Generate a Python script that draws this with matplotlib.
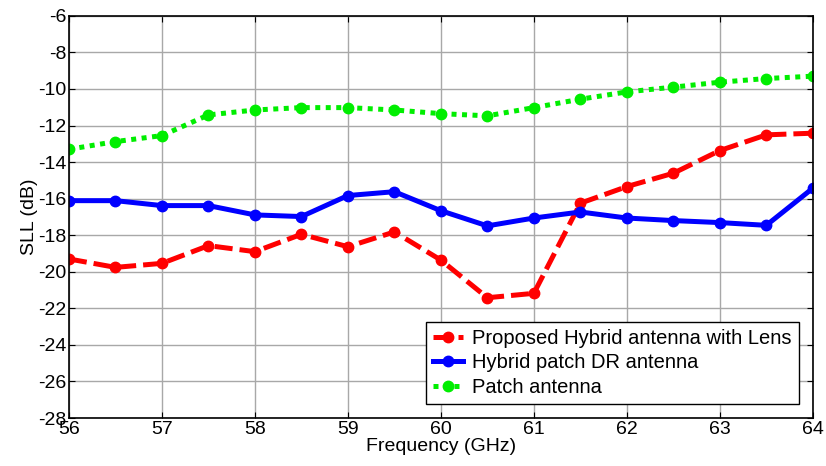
import matplotlib
matplotlib.use("Agg")
import matplotlib.pyplot as plt

plt.rcParams['font.family'] = ['Liberation Sans', 'DejaVu Sans']
plt.rcParams['axes.unicode_minus'] = False

freq = [56, 56.5, 57, 57.5, 58, 58.5, 59, 59.5, 60, 60.5, 61, 61.5, 62, 62.5, 63, 63.5, 64]

lens = [-19.30, -19.76, -19.54, -18.57, -18.90, -17.95, -18.63, -17.82, -19.36,
        -21.42, -21.18, -16.25, -15.34, -14.61, -13.37, -12.51, -12.42]
hybrid = [-16.11, -16.11, -16.38, -16.38, -16.89, -16.98, -15.83, -15.62, -16.66,
          -17.49, -17.06, -16.73, -17.06, -17.20, -17.31, -17.46, -15.43]
patch = [-13.30, -12.88, -12.55, -11.42, -11.15, -11.02, -11.02, -11.15, -11.35,
         -11.47, -11.02, -10.56, -10.16, -9.90, -9.63, -9.43, -9.30]

fig = plt.figure(figsize=(8.26, 4.66), dpi=100)
ax = fig.add_axes([0.0835, 0.103, 0.9005, 0.863])

ax.plot(freq, lens, color='#ff0000', linestyle=(0, (3.6, 1.4)), linewidth=3.6,
        marker='o', markersize=7.5, label='Proposed Hybrid antenna with Lens')
ax.plot(freq, hybrid, color='#0000ff', linestyle='-', linewidth=3.6,
        marker='o', markersize=7.5, label='Hybrid patch DR antenna')
ax.plot(freq, patch, color='#00ee00', linestyle=(0, (1, 1.1)), linewidth=3.6,
        marker='o', markersize=7.5, label='Patch antenna')

ax.set_xlim(56, 64)
ax.set_ylim(-28, -6)
ax.set_xticks(range(56, 65))
ax.set_yticks(range(-28, -5, 2))
ax.grid(True, color='#a8a8a8', linewidth=1)
ax.tick_params(direction='in', labelsize=14, length=4, top=True, right=True, pad=2)
for s in ax.spines.values():
    s.set_linewidth(1.2)

ax.set_xlabel('Frequency (GHz)', fontsize=14, labelpad=0)
ax.set_ylabel('SLL (dB)', fontsize=14, labelpad=0)

leg = ax.legend(loc='lower right', fontsize=14.5, fancybox=False, framealpha=1,
                edgecolor='black', borderaxespad=0.7, handlelength=1.5,
                handletextpad=0.45, labelspacing=0.28, borderpad=0.35)
leg.get_frame().set_linewidth(1)

fig.savefig('out.png')
